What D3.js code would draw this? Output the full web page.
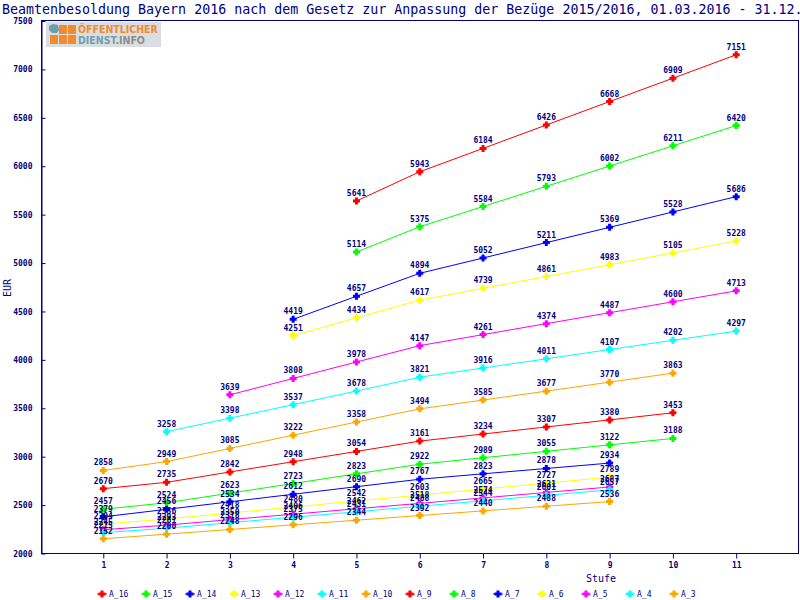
<!DOCTYPE html>
<html>
<head>
<meta charset="utf-8">
<script src="https://cdn.jsdelivr.net/npm/d3@7"></script>
<style>
  body { margin: 0; background: #ffffff; }
  svg { display: block; }
  text { font-family: "DejaVu Sans Mono", monospace; fill: #000080; }
</style>
</head>
<body>
<div id="chart"></div>
<script>
const chart_width = 800;
const chart_height = 600;

const title_text = 'Beamtenbesoldung Bayern 2016 nach dem Gesetz zur Anpassung der Bezüge 2015/2016, 01.03.2016 - 31.12.2016';

const steps = [1, 2, 3, 4, 5, 6, 7, 8, 9, 10, 11];
const y_ticks = [2000, 2500, 3000, 3500, 4000, 4500, 5000, 5500, 6000, 6500, 7000, 7500];

const grades = ['A_16', 'A_15', 'A_14', 'A_13', 'A_12', 'A_11', 'A_10', 'A_9', 'A_8', 'A_7', 'A_6', 'A_5', 'A_4', 'A_3'];
const grade_colors = ['#ff0000', '#00ff00', '#0000ff', '#ffff00', '#ff00ff', '#00ffff', '#ffa500',
                      '#ff0000', '#00ff00', '#0000ff', '#ffff00', '#ff00ff', '#00ffff', '#ffa500'];
// first Stufe of each grade
const first_step = [5, 5, 4, 4, 3, 2, 1, 1, 1, 1, 1, 1, 1, 1];

const a_16 = [5641, 5943, 6184, 6426, 6668, 6909, 7151];
const a_15 = [5114, 5375, 5584, 5793, 6002, 6211, 6420];
const a_14 = [4419, 4657, 4894, 5052, 5211, 5369, 5528, 5686];
const a_13 = [4251, 4434, 4617, 4739, 4861, 4983, 5105, 5228];
const a_12 = [3639, 3808, 3978, 4147, 4261, 4374, 4487, 4600, 4713];
const a_11 = [3258, 3398, 3537, 3678, 3821, 3916, 4011, 4107, 4202, 4297];
const a_10 = [2858, 2949, 3085, 3222, 3358, 3494, 3585, 3677, 3770, 3863];
const a_9  = [2670, 2735, 2842, 2948, 3054, 3161, 3234, 3307, 3380, 3453];
const a_8  = [2457, 2524, 2623, 2723, 2823, 2922, 2989, 3055, 3122, 3188];
const a_7  = [2379, 2456, 2534, 2612, 2690, 2767, 2823, 2878, 2934];
const a_6  = [2304, 2356, 2418, 2480, 2542, 2603, 2665, 2727, 2789];
const a_5  = [2245, 2293, 2350, 2406, 2462, 2518, 2574, 2631, 2687];
const a_4  = [2215, 2261, 2318, 2375, 2431, 2488, 2544, 2601, 2657];
const a_3  = [2152, 2200, 2248, 2296, 2344, 2392, 2440, 2488, 2536];

const grade_values = [a_16, a_15, a_14, a_13, a_12, a_11, a_10, a_9, a_8, a_7, a_6, a_5, a_4, a_3];

const plot_left = 41.5, plot_right = 798.5, plot_top = 20.5, plot_bottom = 553.5;

function draw_chart(){
    let dataset = [];
    for(let i = 0; i < grades.length; i++){
        let series = {};
        series.name = grades[i];
        series.color = grade_colors[i];
        series.points = grade_values[i].map(function(v, j){
            return { step: first_step[i] + j, value: v };
        });
        dataset.push(series);
    }

    var svg = d3.select('#chart')
                .append('svg')
                .attr('width', chart_width)
                .attr('height', chart_height);

    var xScale = d3.scaleLinear()
                    .domain([0, 12])
                    .range([40, 799.5]);
    var yScale = d3.scaleLinear()
                    .domain([2000, 7500])
                    .range([plot_bottom, 21]);

    // title
    svg.append('text')
        .attr('x', 2)
        .attr('y', 14)
        .style('font-size', '13.3px')
        .text(title_text);

    // logo
    var logo = svg.append('g').attr('transform', 'translate(46,22)');
    logo.append('rect').attr('width', 115).attr('height', 25).attr('fill', '#d9dee2');
    logo.append('path')
        .attr('d', 'M3,4 L7,2 L12,3 L13,8 L11,11 L6,11 L3,8 Z')
        .attr('fill', '#6f9fae');
    [[13,3],[22,3],[4,13],[13,13],[22,13]].forEach(function(p){
        logo.append('rect').attr('x', p[0]).attr('y', p[1]).attr('width', 8).attr('height', 9).attr('fill', '#f28a2e');
    });
    logo.append('text').attr('x', 32).attr('y', 11)
        .style('font-family', '"DejaVu Sans Condensed", "DejaVu Sans", sans-serif').style('font-weight', 'bold')
        .style('font-size', '10.5px').style('fill', '#f28a2e').text('ÖFFENTLICHER');
    var t2 = logo.append('text').attr('x', 32).attr('y', 22)
        .style('font-family', '"DejaVu Sans Condensed", "DejaVu Sans", sans-serif').style('font-weight', 'bold')
        .style('font-size', '10.5px');
    t2.append('tspan').style('fill', '#6f9fae').text('DIENST');
    t2.append('tspan').style('fill', '#8c8c8c').text('.INFO');

    // frame
    svg.append('rect')
        .attr('x', plot_left).attr('y', plot_top)
        .attr('width', plot_right - plot_left).attr('height', plot_bottom - plot_top)
        .attr('fill', 'none').attr('stroke', '#000080').attr('stroke-width', 1);

    // y axis
    var yAxis = d3.axisLeft(yScale).tickValues(y_ticks).tickFormat(d3.format('d'))
                  .tickSizeInner(-4).tickSizeOuter(0).tickPadding(9);
    var gy = svg.append('g').attr('transform', 'translate(' + plot_left + ',0)').call(yAxis);
    gy.select('.domain').attr('stroke', '#000080');
    gy.selectAll('line').attr('stroke', '#000080');
    gy.selectAll('text').style('font-size', '8px').style('font-weight', 'bold')
        .style('font-family', '"DejaVu Sans Mono", monospace').attr('fill', '#000080');

    // x axis
    var xAxis = d3.axisBottom(xScale).tickValues(steps).tickSizeInner(5).tickSizeOuter(0).tickPadding(4);
    var gx = svg.append('g').attr('transform', 'translate(0,' + plot_bottom + ')').call(xAxis);
    gx.select('.domain').remove();
    gx.selectAll('line').attr('stroke', '#000080');
    gx.selectAll('text').style('font-size', '8px').style('font-weight', 'bold')
        .style('font-family', '"DejaVu Sans Mono", monospace').attr('fill', '#000080');

    // axis titles
    svg.append('text')
        .attr('transform', 'translate(11,288) rotate(-90)')
        .attr('text-anchor', 'middle')
        .style('font-size', '10px')
        .text('EUR');
    svg.append('text')
        .attr('x', 601).attr('y', 582)
        .attr('text-anchor', 'middle')
        .style('font-size', '10px')
        .text('Stufe');

    var marker = 'M-1.5,-3.5 H1.5 V-1.5 H3.5 V1.5 H1.5 V3.5 H-1.5 V1.5 H-3.5 V-1.5 H-1.5 Z';

    var line = d3.line()
                .x(function(d){ return xScale(d.step); })
                .y(function(d){ return yScale(d.value); });

    var groups = svg.append('g')
                    .selectAll('.grade')
                    .data(dataset)
                    .enter()
                    .append('g')
                    .attr('class', 'grade');

    groups.append('path')
        .attr('d', function(d){ return line(d.points); })
        .attr('fill', 'none')
        .attr('stroke', function(d){ return d.color; })
        .attr('stroke-width', 1);

    groups.selectAll('.pt')
        .data(function(d){ return d.points.map(function(p){ return { step: p.step, value: p.value, color: d.color }; }); })
        .enter()
        .append('path')
        .attr('class', 'pt')
        .attr('d', marker)
        .attr('fill', function(d){ return d.color; })
        .attr('transform', function(d){ return 'translate(' + xScale(d.step) + ',' + yScale(d.value) + ')'; });

    groups.selectAll('.lbl')
        .data(function(d){ return d.points; })
        .enter()
        .append('text')
        .attr('class', 'lbl')
        .attr('x', function(d){ return xScale(d.step); })
        .attr('y', function(d){ return yScale(d.value) - 5; })
        .attr('text-anchor', 'middle')
        .style('font-size', '8px')
        .style('font-weight', 'bold')
        .text(function(d){ return d.value; });

    // legend
    var legend = svg.append('g')
                    .selectAll('.legend')
                    .data(dataset)
                    .enter()
                    .append('g')
                    .attr('class', 'legend')
                    .attr('transform', function(d, i){ return 'translate(' + (102 + i * 44) + ',594)'; });
    legend.append('path')
        .attr('d', marker)
        .attr('fill', function(d){ return d.color; });
    legend.append('line')
        .attr('x1', -5).attr('x2', 5)
        .attr('stroke', function(d){ return d.color; });
    legend.append('text')
        .attr('x', 7).attr('y', 3)
        .style('font-size', '8px')
        .text(function(d){ return d.name; });
}

draw_chart();
</script>
</body>
</html>
